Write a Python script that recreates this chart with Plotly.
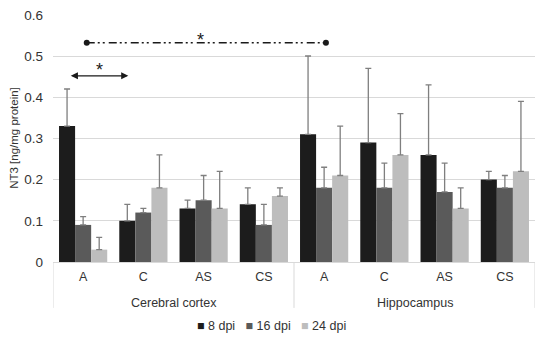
import plotly.graph_objects as go

categories = ["A", "C", "AS", "CS", "A", "C", "AS", "CS"]
regions = ["Cerebral cortex", "Hippocampus"]
series_names = ["8 dpi", "16 dpi", "24 dpi"]
series_colors = ["#1c1c1c", "#5a5a5a", "#bdbdbd"]

vals_8dpi = [0.33, 0.10, 0.13, 0.14, 0.31, 0.29, 0.26, 0.20]
vals_16dpi = [0.09, 0.12, 0.15, 0.09, 0.18, 0.18, 0.17, 0.18]
vals_24dpi = [0.03, 0.18, 0.13, 0.16, 0.21, 0.26, 0.13, 0.22]

err_8dpi = [0.09, 0.04, 0.02, 0.04, 0.19, 0.18, 0.17, 0.02]
err_16dpi = [0.02, 0.01, 0.06, 0.05, 0.05, 0.06, 0.07, 0.03]
err_24dpi = [0.03, 0.08, 0.09, 0.02, 0.12, 0.10, 0.05, 0.17]

y_ticks = [0, 0.1, 0.2, 0.3, 0.4, 0.5, 0.6]
y_ticktext = ["0", "0.1", "0.2", "0.3", "0.4", "0.5", "0.6"]

FONT = "Liberation Sans, Arial, sans-serif"
TXT = "#333333"
GRID = "#d9d9d9"

xpos = list(range(len(categories)))
fig = go.Figure()
for name, color, vals, errs in zip(series_names, series_colors,
                                   [vals_8dpi, vals_16dpi, vals_24dpi],
                                   [err_8dpi, err_16dpi, err_24dpi]):
    fig.add_trace(go.Bar(
        x=xpos, y=vals, name=name, marker=dict(color=color, line=dict(width=0)),
        error_y=dict(type="data", array=errs, arrayminus=[0] * len(errs), symmetric=False,
                     color="#7f7f7f", thickness=1.3, width=3),
        showlegend=False,
    ))

# significance: dash-dot-dot line with dots at ends
fig.add_trace(go.Scatter(
    x=[0.06, 4.03], y=[0.532, 0.532], mode="lines+markers",
    line=dict(color="#1a1a1a", width=1.5, dash="8px,3px,2px,3px,2px,4px"),
    marker=dict(color="#1a1a1a", size=6), showlegend=False, hoverinfo="skip",
))

annotations = [
    dict(x=1.95, y=0.538, xref="x", yref="y", text="*", showarrow=False,
         font=dict(size=18, color="#1a1a1a", family=FONT), yanchor="middle"),
    dict(x=0.27, y=0.466, xref="x", yref="y", text="*", showarrow=False,
         font=dict(size=18, color="#1a1a1a", family=FONT), yanchor="middle"),
    dict(x=0.75, y=0.452, xref="x", yref="y", ax=-0.23, ay=0.452, axref="x", ayref="y",
         text="", showarrow=True, arrowhead=2, arrowside="end+start", arrowsize=1.1,
         arrowwidth=1.3, arrowcolor="#1a1a1a"),
]
for i, r in enumerate(regions):
    annotations.append(dict(x=1.5 + 4 * i, y=-0.165, xref="x", yref="paper", text=r,
                            showarrow=False, yanchor="middle",
                            font=dict(size=12.5, color=TXT, family=FONT)))

legend_text = "\u00a0\u00a0\u00a0".join(
    f'<span style="color:{c}">■</span>\u00a0{n}' for n, c in zip(series_names, series_colors))
annotations.append(dict(x=(271.5 - 53) / 482, y=(262 - 326) / 248, xref="paper", yref="paper",
                        text=legend_text, showarrow=False, xanchor="center", yanchor="middle",
                        font=dict(size=12.5, color=TXT, family=FONT)))

shapes = []
for xb in [-0.5, 3.5, 7.5]:
    shapes.append(dict(type="line", x0=xb, x1=xb, y0=0, y1=-0.185, xref="x", yref="paper",
                       line=dict(color=GRID, width=1)))

# the page body adds an 8px offset; the figure is sized to fill the remaining window
fig.update_layout(
    width=542, height=331,
    margin=dict(l=45, r=15, t=6, b=77),
    paper_bgcolor="white", plot_bgcolor="white",
    barmode="group", bargap=0.2, bargroupgap=0,
    font=dict(family=FONT, color=TXT, size=12),
    annotations=annotations, shapes=shapes,
    xaxis=dict(range=[-0.5, 7.5], tickvals=xpos, ticktext=categories, showgrid=False,
               zeroline=False, showline=True, linecolor=GRID, linewidth=1, ticks="",
               automargin=False, ticklabelstandoff=3, tickfont=dict(size=12.5, color=TXT)),
    yaxis=dict(range=[0, 0.602], tickvals=y_ticks, ticktext=y_ticktext, showgrid=True,
               gridcolor=GRID, gridwidth=1, zeroline=False, showline=False, ticks="",
               automargin=False, ticklabelstandoff=9, ticklabeloverflow="allow",
               tickfont=dict(size=13.5, color=TXT),
               title=dict(text="NT3 [ng/mg protein]", font=dict(size=11.5, color=TXT), standoff=3)),
)

fig.write_html("out.html")
